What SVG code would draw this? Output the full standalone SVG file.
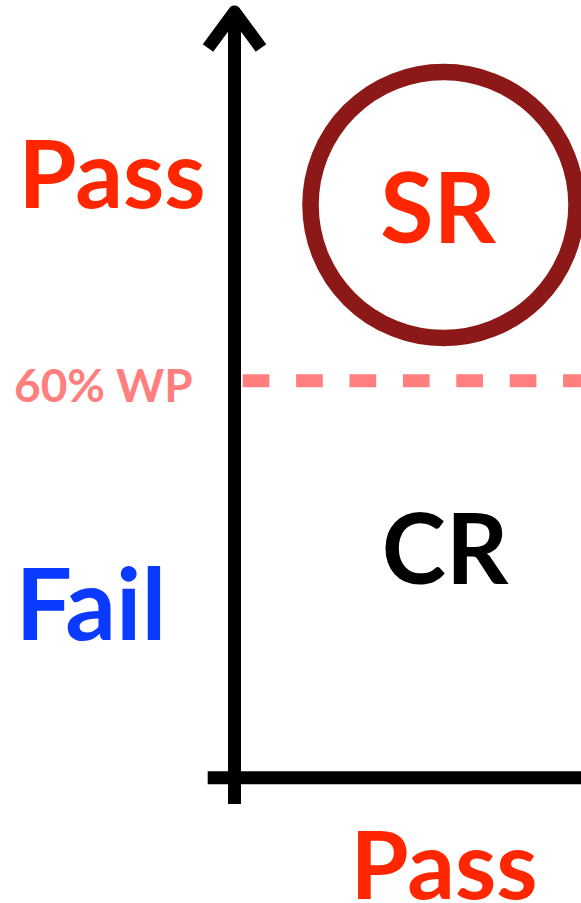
<svg xmlns="http://www.w3.org/2000/svg" width="581" height="903" viewBox="0 0 581 903">
  <style>
    .lbl { font-family: Lato, "Open Sans", "Liberation Sans", sans-serif; font-weight: bold; }
    .pass { fill: #FF2600; }
    .axis { stroke: #000; stroke-width: 13; fill: none; }
  </style>
  <rect width="581" height="903" fill="#fff"/>

  <!-- threshold line -->
  <g id="threshold">
    <line x1="242.7" y1="380.7" x2="581" y2="380.7" stroke="#FF7F7F" stroke-width="13" stroke-dasharray="26.7 26.7"/>
    <text class="lbl" x="14" y="401.7" font-size="46" fill="#FF7F7F">60% WP</text>
  </g>

  <!-- axes -->
  <g id="axes">
    <line class="axis" x1="234.5" y1="12" x2="234.5" y2="804"/>
    <line class="axis" x1="207.7" y1="777.7" x2="581" y2="777.7"/>
    <polyline class="axis" points="208,48 234.5,12 261,48" stroke-linejoin="round"/>
  </g>

  <!-- SR region -->
  <g id="sr">
    <circle cx="443.5" cy="205" r="133" fill="none" stroke="#8C1818" stroke-width="16.5"/>
    <text class="lbl pass" x="438" y="243" font-size="97" text-anchor="middle">SR</text>
  </g>

  <!-- CR region -->
  <g id="cr">
    <text class="lbl" x="445" y="584" font-size="97" text-anchor="middle" fill="#000">CR</text>
  </g>

  <!-- axis labels -->
  <g id="y-pass"><text class="lbl pass" x="18.5" y="208.3" font-size="94">Pass</text></g>
  <g id="y-fail"><text class="lbl" x="15.5" y="640" font-size="100" fill="#0A3AFF">Fail</text></g>
  <g id="x-pass"><text class="lbl pass" x="350.5" y="898.5" font-size="94">Pass</text></g>
</svg>
